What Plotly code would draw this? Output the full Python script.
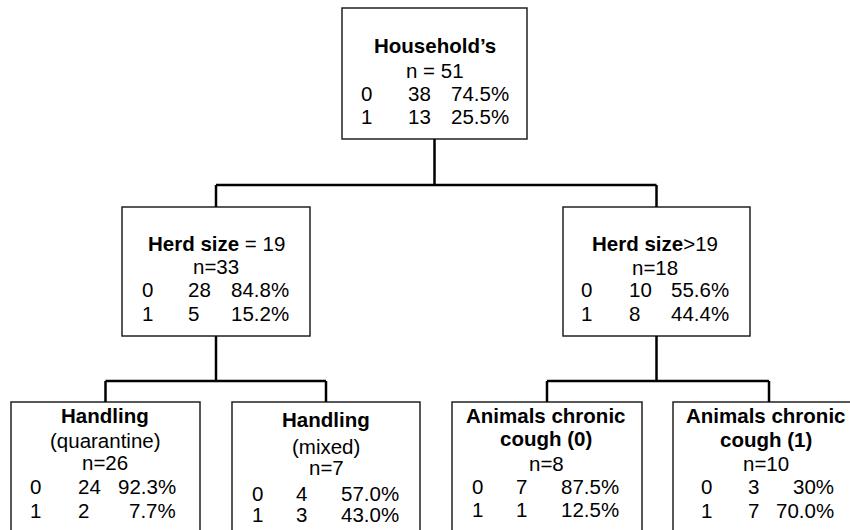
import plotly.graph_objects as go

# ---- data ----
node_titles = [
    "<b>Household’s</b>",
    "<b>Herd size</b> = 19",
    "<b>Herd size</b>>19",
    "<b>Handling</b><br>(quarantine)",
    "<b>Handling</b><br>(mixed)",
    "<b>Animals chronic</b><br><b>cough (0)</b>",
    "<b>Animals chronic</b><br><b>cough (1)</b>",
]
n_labels = ["n = 51", "n=33", "n=18", "n=26", "n=7", "n=8", "n=10"]
class_labels = ["0", "1"]
count0 = [38, 28, 10, 24, 4, 7, 3]
count1 = [13, 5, 8, 2, 3, 1, 7]
pct0 = ["74.5%", "84.8%", "55.6%", "92.3%", "57.0%", "87.5%", "30%"]
pct1 = ["25.5%", "15.2%", "44.4%", "7.7%", "43.0%", "12.5%", "70.0%"]
parents = [None, 0, 0, 1, 1, 2, 2]

# ---- layout (pixel space of the page) ----
boxes = [  # x0, x1, y0, y1
    (342, 527, 8, 139),
    (122, 310, 207, 336),
    (563, 750, 207, 336),
    (11, 200, 402, 560),
    (232, 420, 402, 560),
    (452, 642, 402, 560),
    (673, 865, 402, 560),
]
title_y = [[45], [243], [243], [415, 440], [419, 446], [415, 438], [415, 439]]
n_y = [70, 266, 267, 462, 467, 463, 463]
row_y = [(93, 116), (289, 313), (289, 313), (486, 510), (493, 514), (486, 509), (486, 510)]
title_x = [435, 216, 655, 105, 326, 546, 766]
cls_x = [366, 147, 586, 35, 257, 477, 706]
cnt_x = [407, 187, 628, 77, 295, 515, 747]
pct_x = [510, 290, 730, 177, 400, 620, 835]
bus_y = {0: 185, 1: 381, 2: 381}

FONT = "Liberation Sans, Arial, sans-serif"
FS = 20.5

fig = go.Figure()

for p in sorted(set(x for x in parents if x is not None)):
    kids = [i for i, q in enumerate(parents) if q == p]
    px = (boxes[p][0] + boxes[p][1]) / 2
    kx = [(boxes[k][0] + boxes[k][1]) / 2 for k in kids]
    by = bus_y[p]
    xs = [px, px, None, min(kx), max(kx)]
    ys = [boxes[p][3], by, None, by, by]
    for k, x in zip(kids, kx):
        xs += [None, x, x]
        ys += [None, by, boxes[k][2]]
    fig.add_trace(go.Scatter(x=xs, y=ys, mode="lines",
                             line=dict(color="black", width=2.5),
                             hoverinfo="skip", showlegend=False))

for i, (x0, x1, y0, y1) in enumerate(boxes):
    fig.add_shape(type="rect", x0=x0, x1=x1, y0=y0, y1=y1,
                  line=dict(color="#222222", width=1.5), fillcolor="white",
                  layer="below")
    lines = node_titles[i].split("<br>")
    for txt, yy in zip(lines, title_y[i]):
        fig.add_annotation(x=title_x[i], y=yy, text=txt, showarrow=False,
                           xanchor="center", yanchor="middle")
    fig.add_annotation(x=title_x[i], y=n_y[i], text=n_labels[i], showarrow=False,
                       xanchor="center", yanchor="middle")
    for r, (c, cnt, pc) in enumerate(zip(class_labels, [count0[i], count1[i]], [pct0[i], pct1[i]])):
        yy = row_y[i][r]
        fig.add_annotation(x=cls_x[i], y=yy, text=c, showarrow=False,
                           xanchor="center", yanchor="middle")
        fig.add_annotation(x=cnt_x[i], y=yy, text=str(cnt), showarrow=False,
                           xanchor="left", yanchor="middle")
        fig.add_annotation(x=pct_x[i], y=yy, text=pc, showarrow=False,
                           xanchor="right", yanchor="middle")

fig.update_annotations(font=dict(family=FONT, size=FS, color="black"), borderpad=0)
fig.update_layout(
    width=850, height=530,
    margin=dict(l=0, r=0, t=0, b=0),
    paper_bgcolor="white", plot_bgcolor="white",
    xaxis=dict(range=[0, 850], visible=False, fixedrange=True),
    yaxis=dict(range=[530, 0], visible=False, fixedrange=True),
    showlegend=False,
)
fig.write_html(
    "out.html",
    config={"displayModeBar": False},
    post_script="document.body.style.margin='0';document.body.style.overflow='hidden';",
)
